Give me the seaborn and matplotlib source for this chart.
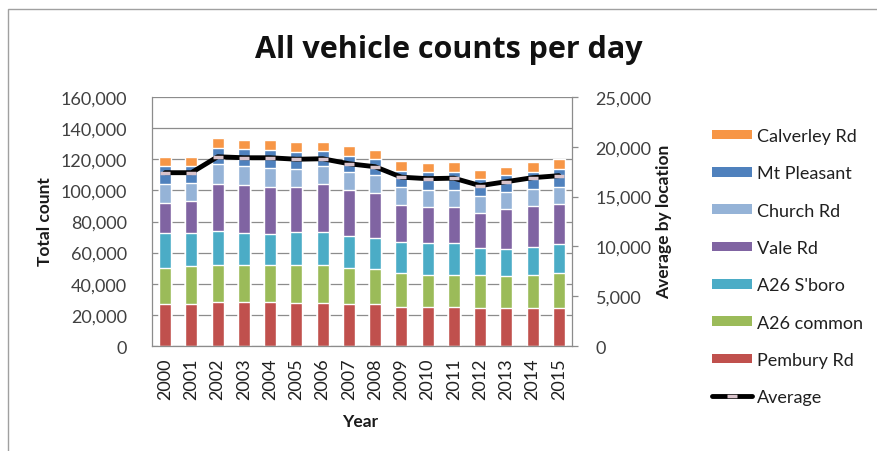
import numpy as np
import pandas as pd
import matplotlib
matplotlib.use("Agg")
import matplotlib.pyplot as plt
import seaborn as sns
from matplotlib.patches import Patch, Rectangle
from matplotlib.lines import Line2D
from matplotlib.ticker import FuncFormatter

years = [str(y) for y in range(2000, 2016)]

# segment values (bottom to top)
pembury = [26800, 26800, 28500, 28500, 28500, 27900, 27900, 26800,
           26800, 25300, 25300, 25300, 24200, 24200, 24200, 24200]
a26_common = [23150, 24700, 23600, 23600, 23600, 24200, 24200, 23200,
              22500, 21400, 20200, 20200, 21200, 20800, 21700, 22900]
a26_sboro = [22500, 21000, 21900, 20800, 19700, 21400, 21400, 20800,
             20400, 20400, 20600, 21000, 17400, 17100, 17800, 18200]
vale = [19700, 20400, 30400, 30600, 30400, 28900, 30900, 29400,
        28500, 23400, 22900, 22500, 22900, 25700, 26100, 25700]
church = [12200, 11600, 12400, 12200, 12400, 11100, 11400, 11400,
          11800, 11400, 11400, 11400, 10700, 11100, 10900, 11400]
mt_pleasant = [11400, 11400, 10700, 10700, 11100, 11400, 9600, 10300,
               10100, 10700, 11100, 11600, 10700, 10700, 11100, 11100]
calverley = [5800, 5800, 6400, 6000, 6600, 6400, 6000, 6400,
             5800, 6000, 5800, 6000, 5800, 5600, 6400, 6400]

# average by location (right axis)
average = [17400, 17400, 19000, 18900, 18900, 18750, 18800, 18300,
           18000, 16950, 16800, 16850, 16100, 16500, 16900, 17100]

series = [
    ("Pembury Rd", pembury, "#C0504D"),
    ("A26 common", a26_common, "#9BBB59"),
    ("A26 S'boro", a26_sboro, "#4BACC6"),
    ("Vale Rd", vale, "#8064A2"),
    ("Church Rd", church, "#95B3D7"),
    ("Mt Pleasant", mt_pleasant, "#4F81BD"),
    ("Calverley Rd", calverley, "#F79646"),
]

sns.set_theme(style="white")
plt.rcParams["font.family"] = ["Lato", "DejaVu Sans"]

W, H = 878, 452
fig = plt.figure(figsize=(W / 100, H / 100), dpi=100)
fig.patch.set_facecolor("white")

ax = fig.add_axes([152 / W, 1 - 347 / H, 420 / W, 249 / H])

df = pd.DataFrame({"year": years})
for name, vals, col in series:
    df[name] = vals
cum = df[[s[0] for s in series]].cumsum(axis=1)

# draw cumulative totals from the top layer down so they stack visually
for name, vals, col in reversed(series):
    sns.barplot(x=df["year"], y=cum[name], color=col, width=0.45,
                saturation=1, ax=ax, zorder=2)

ax.set_ylim(0, 160000)
ax.set_xlim(-0.5, len(years) - 0.5)
ax.set_yticks(np.arange(0, 160001, 20000))
ax.yaxis.set_major_formatter(FuncFormatter(lambda v, p: f"{int(v):,}"))
ax.grid(axis="y", color="#8C8C8C", linewidth=0.9, zorder=0)
ax.set_axisbelow(True)
ax.tick_params(axis="y", length=0, pad=18, labelsize=13, colors="#404040")
ax.tick_params(axis="x", length=0, pad=8, labelsize=13, labelrotation=90,
               colors="#202020")
for lab in ax.get_xticklabels():
    lab.set_rotation(90)
ax.set_xlabel("")
ax.set_ylabel("")
for side in ["top", "right"]:
    ax.spines[side].set_visible(False)
for side in ["left", "bottom"]:
    ax.spines[side].set_color("#8C8C8C")
    ax.spines[side].set_linewidth(0.9)

ax2 = ax.twinx()
sns.lineplot(x=np.arange(len(years)), y=average, ax=ax2, color="black",
             linewidth=3.5, marker="_", markersize=7, markeredgewidth=2.5,
             markeredgecolor="#D9C3CB", markerfacecolor="#D9C3CB", zorder=5)
ax2.set_ylim(0, 25000)
ax2.set_yticks(np.arange(0, 25001, 5000))
ax2.yaxis.set_major_formatter(FuncFormatter(lambda v, p: f"{int(v):,}"))
ax2.tick_params(axis="y", length=4, width=0.9, pad=13, labelsize=13,
                colors="#8C8C8C", labelcolor="#404040")
ax2.set_xlim(-0.5, len(years) - 0.5)
ax2.set_ylabel("")
for side in ["top", "left", "bottom"]:
    ax2.spines[side].set_visible(False)
ax2.spines["right"].set_color("#8C8C8C")
ax2.spines["right"].set_linewidth(0.9)

fig.text(449 / W, 1 - 50 / H, "All vehicle counts per day", ha="center",
         va="center", fontsize=22, fontweight="bold", color="#111111",
         family=["Open Sans", "DejaVu Sans"])
fig.text(45 / W, 1 - 222 / H, "Total count", rotation=90, ha="center",
         va="center", fontsize=12.5, fontweight="bold", color="#1A1A1A")
fig.text(664 / W, 1 - 222 / H, "Average by location", rotation=90,
         ha="center", va="center", fontsize=12.5, fontweight="bold",
         color="#1A1A1A")
fig.text(360 / W, 1 - 422 / H, "Year", ha="center", va="center",
         fontsize=12.5, fontweight="bold", color="#1A1A1A")

handles = [Patch(facecolor=c, edgecolor="none", label=n)
           for n, v, c in reversed(series)]
handles.append(Line2D([0], [0], color="black", linewidth=3.5, marker="_",
                      markersize=7, markeredgewidth=2.5,
                      markeredgecolor="#D9C3CB", label="Average"))
leg = fig.legend(handles=handles, loc="upper left",
                 bbox_to_anchor=(712 / W, 1 - 129 / H), frameon=False,
                 fontsize=13, handlelength=2.2, handleheight=0.45,
                 handletextpad=0.3, labelspacing=1.18, borderpad=0,
                 borderaxespad=0)
for t in leg.get_texts():
    t.set_color("#202020")

fig.patches.append(Rectangle((8 / W, -0.1), 1.2, 1.1 - 10 / H,
                             transform=fig.transFigure, fill=False,
                             edgecolor="#A0A0A0", linewidth=1.0))

fig.savefig("out.png", dpi=100, facecolor="white")
